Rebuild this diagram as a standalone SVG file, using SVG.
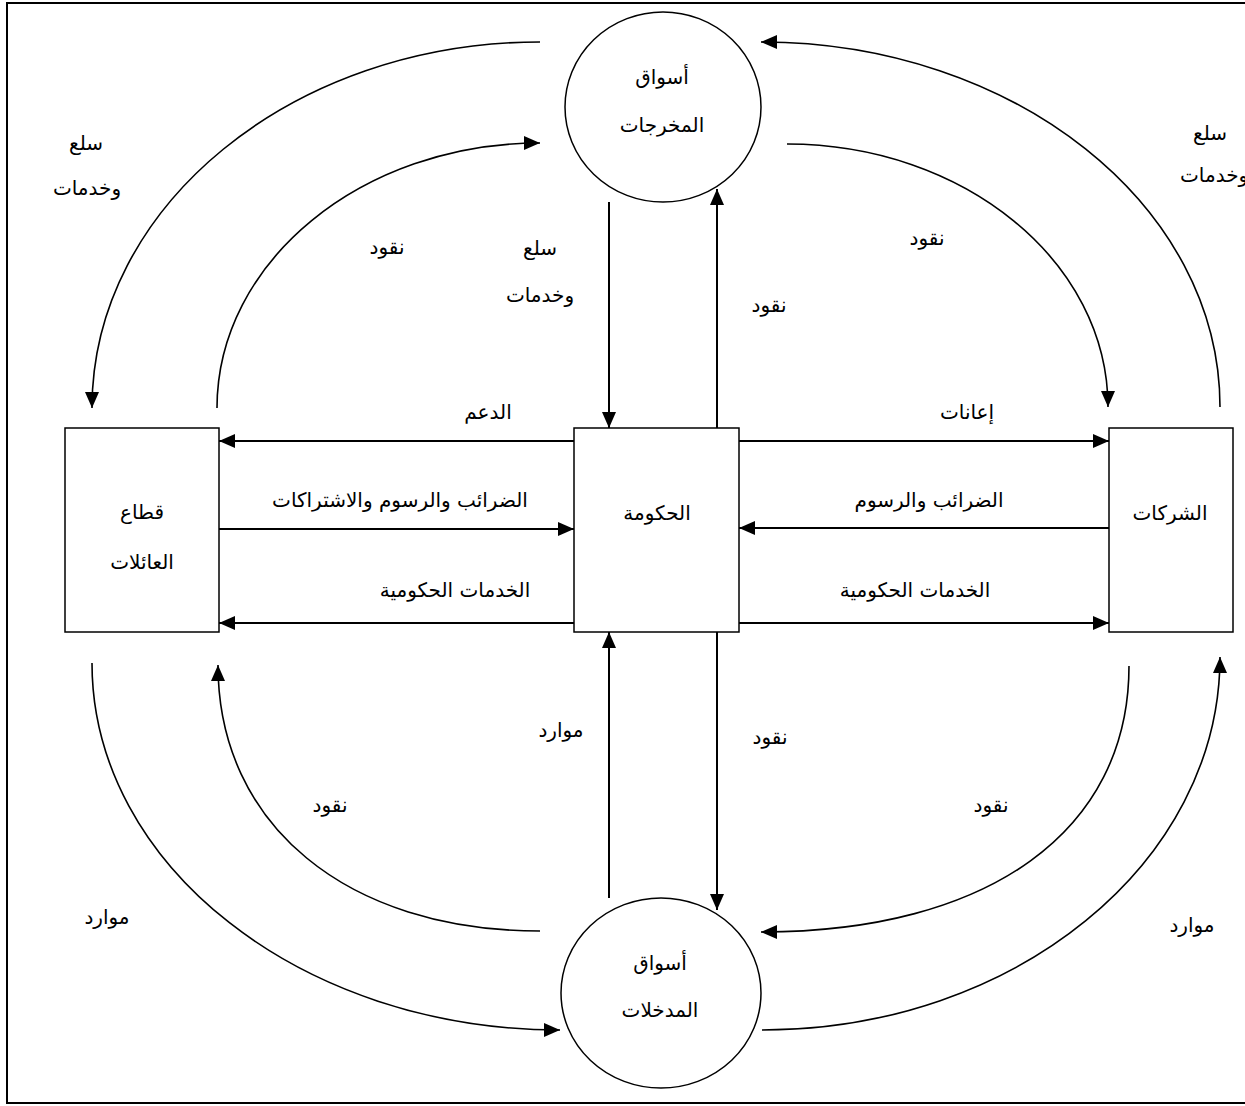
<svg xmlns="http://www.w3.org/2000/svg" width="1245" height="1106" viewBox="0 0 1245 1106">
<defs>
<marker id="ah" markerUnits="userSpaceOnUse" markerWidth="16" markerHeight="14" refX="16" refY="7" orient="auto">
<path d="M0,0 L16,7 L0,14 z" fill="#000"/>
</marker>
<style>
.node{fill:#fff;stroke:#000;stroke-width:1.5}
.ln{fill:none;stroke:#000;stroke-width:2;marker-end:url(#ah)}
.cv{fill:none;stroke:#000;stroke-width:1.6;marker-end:url(#ah)}
text{font-family:"DejaVu Sans",sans-serif;font-size:20px;fill:#000;text-anchor:middle}
</style>
</defs>
<rect x="7" y="3" width="1250" height="1100" fill="#fff" stroke="#000" stroke-width="2"/>
<g id="connectors">
<path class="cv" d="M540,42 C292.7,42 92,206 92,408"/>
<path class="cv" d="M217,408 C217,261.7 361.7,143 540,143"/>
<path class="cv" d="M787,144 C964.2,144 1108,261.8 1108,407"/>
<path class="cv" d="M1220,407 C1220,205.5 1014.4,42 761,42"/>
<path class="cv" d="M92,663 C92,865.6 301.7,1030 560,1030"/>
<path class="cv" d="M540,931 C347,931 218,825 218,665"/>
<path class="cv" d="M1129,666 C1129,831 989,932 761,932"/>
<path class="cv" d="M762,1030 C1014.8,1030 1220,862.9 1220,657"/>
<path class="ln" d="M609,202 L609,428"/>
<path class="ln" d="M717,428 L717,189"/>
<path class="ln" d="M609,898 L609,632"/>
<path class="ln" d="M717,632 L717,910"/>
<path class="ln" d="M574,441 L219,441"/>
<path class="ln" d="M219,529 L574,529"/>
<path class="ln" d="M574,623 L219,623"/>
<path class="ln" d="M739,441 L1109,441"/>
<path class="ln" d="M1109,528 L739,528"/>
<path class="ln" d="M739,623 L1109,623"/>
</g>
<g id="node-output-markets">
<ellipse class="node" cx="663" cy="107" rx="98" ry="95"/>
<text x="662" y="84">أسواق</text>
<text x="662" y="132">المخرجات</text>
</g>
<g id="node-input-markets">
<ellipse class="node" cx="661" cy="993" rx="100" ry="95"/>
<text x="660" y="970">أسواق</text>
<text x="660" y="1017">المدخلات</text>
</g>
<g id="node-households">
<rect class="node" x="65" y="428" width="154" height="204"/>
<text x="142" y="519">قطاع</text>
<text x="142" y="569">العائلات</text>
</g>
<g id="node-government">
<rect class="node" x="574" y="428" width="165" height="204"/>
<text x="657" y="520">الحكومة</text>
</g>
<g id="node-firms">
<rect class="node" x="1109" y="428" width="124" height="204"/>
<text x="1170" y="520">الشركات</text>
</g>
<g id="labels">
<text x="86" y="150">سلع</text>
<text x="87" y="195">وخدمات</text>
<text x="387" y="254">نقود</text>
<text x="540" y="255">سلع</text>
<text x="540" y="302">وخدمات</text>
<text x="488" y="419">الدعم</text>
<text x="1210" y="140">سلع</text>
<text x="1180" y="182" style="text-anchor:start">وخدمات</text>
<text x="927" y="245">نقود</text>
<text x="769" y="312">نقود</text>
<text x="967" y="419">إعانات</text>
<text x="400" y="507">الضرائب والرسوم والاشتراكات</text>
<text x="455" y="597">الخدمات الحكومية</text>
<text x="929" y="507">الضرائب والرسوم</text>
<text x="915" y="597">الخدمات الحكومية</text>
<text x="561" y="737">موارد</text>
<text x="330" y="812">نقود</text>
<text x="107" y="924">موارد</text>
<text x="770" y="744">نقود</text>
<text x="991" y="812">نقود</text>
<text x="1192" y="932">موارد</text>
</g>
</svg>
